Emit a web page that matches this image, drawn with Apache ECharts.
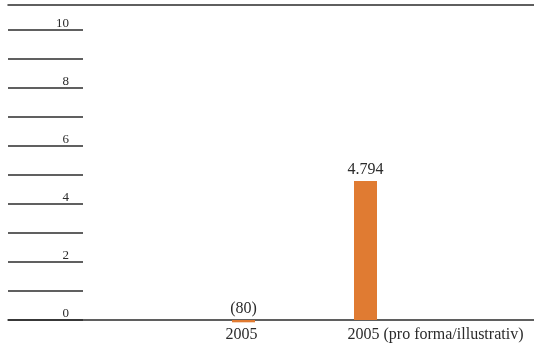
<!DOCTYPE html>
<html>
<head>
<meta charset="utf-8">
<script src="https://cdn.jsdelivr.net/npm/echarts@6/dist/echarts.min.js"></script>
<style>
  html, body { margin: 0; padding: 0; background: #fff; }
  #chart { width: 534px; height: 344px; }
</style>
</head>
<body>
<div id="chart"></div>
<script>
// Chart data
const categories = ['2005', '2005 (pro forma/illustrativ)'];
const values = [-0.08, 4.794];
const yTicks = [0, 2, 4, 6, 8, 10];

const FONT = '"Liberation Serif", "DejaVu Serif", serif';
const INK = '#2b2b2b';
const BAR = '#E07B32';

function valueLabel(v) {
  return v < 0 ? '(' + Math.round(-v * 1000) + ')' : v.toFixed(3);
}

const chart = echarts.init(document.getElementById('chart'), null, { renderer: 'canvas' });

chart.setOption({
  animation: false,
  grid: [
    // short tick rules with value labels on the left
    { left: 8, width: 75, top: 30, bottom: 24 },
    // frame: full-width top rule and baseline
    { left: 8, right: 0, top: 5, bottom: 24 },
    // bars
    { left: 182.5, width: 244, top: 30, bottom: 24 }
  ],
  xAxis: [
    { gridIndex: 0, type: 'value', show: false },
    { gridIndex: 1, type: 'value', position: 'bottom', min: 0, max: 1,
      axisLine: { show: true, lineStyle: { color: INK, width: 1.5 } },
      axisTick: { show: false }, axisLabel: { show: false }, splitLine: { show: false } },
    { gridIndex: 1, type: 'value', position: 'top', min: 0, max: 1,
      axisLine: { show: true, lineStyle: { color: INK, width: 1.5 } },
      axisTick: { show: false }, axisLabel: { show: false }, splitLine: { show: false } },
    { gridIndex: 2, type: 'category', data: categories,
      axisLine: { show: false }, axisTick: { show: false },
      axisLabel: {
        interval: 0, hideOverlap: false,
        color: INK, fontFamily: FONT, fontSize: 16,
        align: 'left', margin: 7, padding: [0, 0, 0, -18]
      } }
  ],
  yAxis: [
    { gridIndex: 0, type: 'value', min: 0, max: 10, interval: 1, position: 'right',
      axisLine: { show: false }, axisTick: { show: false },
      splitLine: { show: true, lineStyle: { color: INK, width: 1.5 } },
      axisLabel: {
        inside: true, margin: 14, verticalAlign: 'bottom',
        color: INK, fontFamily: FONT, fontSize: 13,
        formatter: v => yTicks.includes(v) ? String(v) : ''
      } },
    { gridIndex: 1, type: 'value', show: false, min: 0, max: 1 },
    { gridIndex: 2, type: 'value', show: false, min: 0, max: 10 }
  ],
  series: [
    { type: 'bar', xAxisIndex: 3, yAxisIndex: 2, data: values, barWidth: 23,
      clip: false, z: 1,
      itemStyle: { color: BAR },
      label: {
        show: true, position: 'top', distance: 3,
        color: INK, fontFamily: FONT, fontSize: 16,
        formatter: p => valueLabel(p.value)
      } }
  ]
});
</script>
</body>
</html>
